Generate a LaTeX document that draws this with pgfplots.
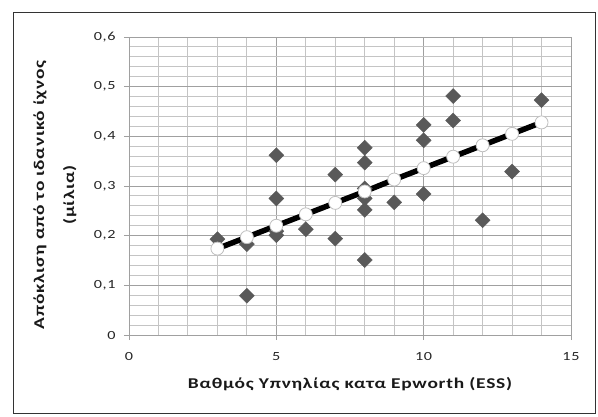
\documentclass[border=0pt]{standalone}
\usepackage{pgfplots}
\pgfplotsset{compat=1.18}
\usepackage{fontspec}
\setmainfont{Carlito}[FakeStretch=1.3, LetterSpace=5]

\definecolor{dia}{HTML}{595959}
\definecolor{majgrid}{HTML}{A0A0A0}
\definecolor{mingrid}{HTML}{C4C4C4}

\begin{document}
\begin{tikzpicture}[x=1bp,y=1bp]
\useasboundingbox (-129,-81) rectangle (469,335);
\draw[black!80, line width=1bp] (-115,-78) rectangle (466,323);
\begin{axis}[
  at={(0,0)}, anchor=south west,
  width=442bp, height=298bp, scale only axis,
  xmin=0, xmax=15, ymin=0, ymax=0.6,
  xtick={0,5,10,15}, xticklabels={0,5,10,15},
  ytick={0,0.1,0.2,0.3,0.4,0.5,0.6},
  yticklabels={0,{0,1},{0,2},{0,3},{0,4},{0,5},{0,6}},
  minor x tick num=4, minor y tick num=4,
  grid=both,
  major grid style={majgrid, line width=0.9bp},
  minor grid style={mingrid, line width=0.9bp},
  axis line style={majgrid, line width=0.9bp},
  tick style={majgrid, line width=0.9bp},
  major tick length=5bp, minor tick length=0bp,
  tick align=outside, xtick pos=left, ytick pos=left,
  /pgf/number format/assume math mode=true,
  tick label style={font=\fontsize{12.5}{14}\selectfont, text=black!85},
  xticklabel style={yshift=-9bp},
  yticklabel style={xshift=-5bp},
  label style={font=\bfseries\fontsize{15}{30}\selectfont, text=black!90},
  xlabel={Βαθμός Υπνηλίας κατα Epworth (ESS)},
  xlabel style={at={(axis description cs:0.5,0)}, anchor=center, yshift=-49bp},
  ylabel={Απόκλιση από το ιδανικό ίχνος\\(μίλια)},
  ylabel style={at={([xshift=-74bp]axis description cs:0,0.47)}, anchor=center, align=center},
  clip=false,
]
% observed values
\addplot[only marks, mark=square*, mark size=5.3bp,
  mark options={rotate=45, fill=dia, draw=dia}] coordinates {
  (3,0.193) (4,0.183) (4,0.079)
  (5,0.362) (5,0.275) (5,0.209) (5,0.201)
  (6,0.213)
  (7,0.323) (7,0.194)
  (8,0.377) (8,0.347) (8,0.295) (8,0.275) (8,0.252) (8,0.151)
  (9,0.267)
  (10,0.423) (10,0.392) (10,0.284)
  (11,0.481) (11,0.432)
  (12,0.231)
  (13,0.329)
  (14,0.473)
};
% fitted line
\addplot[black, line width=5.5bp, mark=*, mark size=6.5bp,
  mark options={fill=white, draw=black!25, line width=0.8bp}] coordinates {
  (3,0.174) (4,0.197) (5,0.220) (6,0.243) (7,0.266) (8,0.289)
  (9,0.313) (10,0.336) (11,0.359) (12,0.382) (13,0.405) (14,0.428)
};
\end{axis}
\end{tikzpicture}
\end{document}
